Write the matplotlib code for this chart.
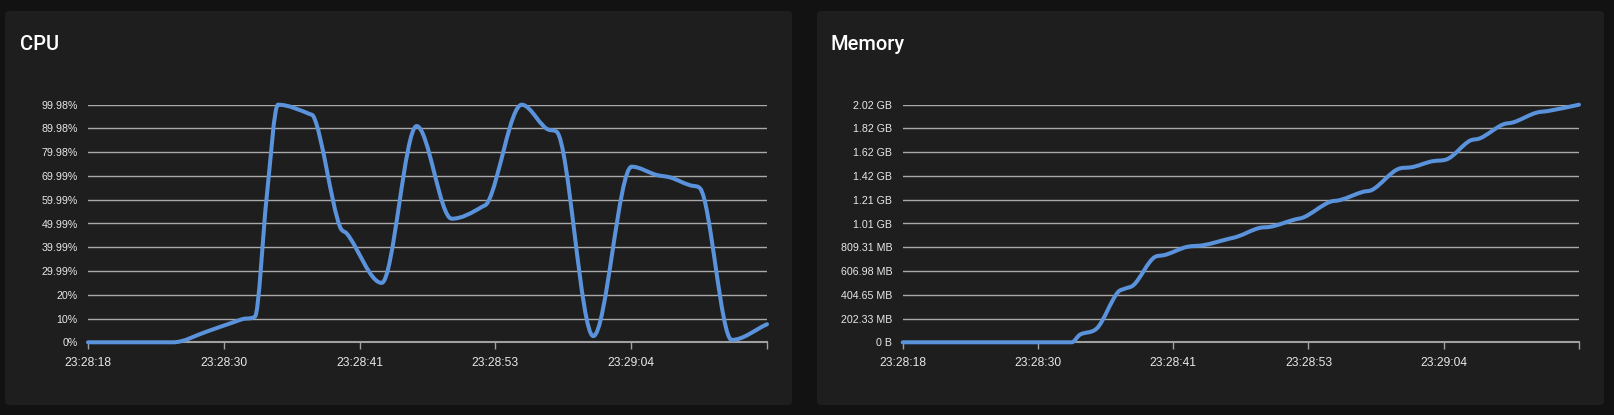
import numpy as np
import matplotlib
matplotlib.use('Agg')
import matplotlib.pyplot as plt
from matplotlib.path import Path
from matplotlib.patches import PathPatch, FancyBboxPatch

# seconds after 23:28:18
cpu_times = [0, 7.20, 10.05, 12.30, 13.40, 14.14, 15.13, 16.09, 18.80, 19.10,
             21.34, 21.91, 24.87, 27.83, 30.80, 33.36, 33.87, 36.73, 39.12,
             39.69, 42.79, 46.04, 48.16, 49.28, 51.26, 51.83, 54.51, 57.50]
cpu_pct = [0, 0, 4.5, 8.4, 10.0, 10.8, 61, 99.98, 96, 95,
           48.6, 45.8, 25, 91, 52, 57, 59, 99.98, 89.3,
           88.6, 2.6, 73.9, 70.4, 69.4, 65.8, 64.8, 1, 7.6]

mem_times = [0, 14.37, 15.07, 16.49, 18.33, 18.90, 19.61, 21.45, 22.16, 24.15,
             25.56, 27.83, 28.40, 30.38, 31.23, 33.35, 34.06, 36.33, 37.18,
             39.16, 39.87, 42.28, 43.13, 45.11, 46.25, 48.23, 49.08, 51.06,
             51.91, 53.90, 54.89, 57.50]
mem_mb = [0, 0, 65, 117, 430, 457, 486, 727, 741, 812,
          827, 884, 898, 975, 983, 1046, 1063, 1196, 1211,
          1282, 1296, 1481, 1489, 1543, 1558, 1717, 1737, 1856,
          1873, 1956, 1970, 2023.3]

time_span = 57.5
time_labels = ['23:28:18', '23:28:30', '23:28:41', '23:28:53', '23:29:04', '']
cpu_max = 99.98
cpu_labels = ['0%', '10%', '20%', '29.99%', '39.99%', '49.99%', '59.99%',
              '69.99%', '79.98%', '89.98%', '99.98%']
mem_max = 2023.3
mem_labels = ['0 B', '202.33 MB', '404.65 MB', '606.98 MB', '809.31 MB',
              '1.01 GB', '1.21 GB', '1.42 GB', '1.62 GB', '1.82 GB', '2.02 GB']

W, H = 1615, 415
bg = '#121212'
card = '#1e1e1e'
line_col = '#5a93db'
grid_col = '#a8a8a8'
axis_col = '#a0a0a0'
text_col = '#e8e8e8'

plt.rcParams['font.family'] = ['Liberation Sans', 'DejaVu Sans']


def monotone_path(xs, ys):
    # monotone cubic (Fritsch-Carlson) as bezier segments
    xs = np.asarray(xs, float)
    ys = np.asarray(ys, float)
    n = len(xs)
    dx = np.diff(xs)
    delta = np.diff(ys) / dx
    m = np.zeros(n)
    m[0] = delta[0]
    m[-1] = delta[-1]
    for k in range(1, n - 1):
        if delta[k - 1] * delta[k] <= 0:
            m[k] = 0
        else:
            m[k] = (delta[k - 1] + delta[k]) / 2
    for k in range(n - 1):
        if abs(delta[k]) < 1e-12:
            m[k] = m[k + 1] = 0
            continue
        a = m[k] / delta[k]
        b = m[k + 1] / delta[k]
        s = a * a + b * b
        if s <= 9:
            continue
        tau = 3 / np.sqrt(s)
        m[k] = a * tau * delta[k]
        m[k + 1] = b * tau * delta[k]
    verts = [(xs[0], ys[0])]
    codes = [Path.MOVETO]
    for k in range(n - 1):
        h = dx[k] / 3
        verts += [(xs[k] + h, ys[k] + m[k] * h),
                  (xs[k + 1] - h, ys[k + 1] - m[k + 1] * h),
                  (xs[k + 1], ys[k + 1])]
        codes += [Path.CURVE4] * 3
    return Path(verts, codes)


fig = plt.figure(figsize=(W / 100, H / 100), dpi=100, facecolor=bg)

# cards (pixel coords, origin bottom-left)
for x0, x1 in [(5, 792), (817, 1604)]:
    fig.patches.append(FancyBboxPatch(
        (x0 / 100, 10 / 100), (x1 - x0) / 100, 394 / 100,
        boxstyle='round,pad=0,rounding_size=0.04',
        transform=fig.dpi_scale_trans, fc=card, ec='none', zorder=-1))


def draw_panel(left_px, right_px, title, title_x, xs, values, ymax, ylabels):
    ax = fig.add_axes([left_px / W, 1 - 342.3 / H,
                       (right_px - left_px) / W, 237.6 / H])
    ax.set_facecolor('none')
    ax.add_patch(PathPatch(monotone_path(xs, values), fill=False,
                           ec=line_col, lw=2.9, capstyle='round',
                           joinstyle='round', clip_on=False, zorder=3))
    ax.set_xlim(0, time_span)
    ax.set_ylim(0, ymax)
    ax.set_yticks(np.linspace(0, ymax, len(ylabels)))
    ax.set_yticklabels(ylabels)
    ax.set_xticks(np.linspace(0, time_span, len(time_labels)))
    ax.set_xticklabels(time_labels)
    ax.yaxis.grid(True, color=grid_col, lw=1)
    ax.set_axisbelow(True)
    for s in ['top', 'left', 'right']:
        ax.spines[s].set_visible(False)
    ax.spines['bottom'].set_color(axis_col)
    ax.spines['bottom'].set_linewidth(1.5)
    ax.tick_params(axis='y', length=0, pad=7.5, labelsize=7.7,
                   labelcolor=text_col)
    ax.tick_params(axis='x', length=5, width=1, color=axis_col, pad=5.5,
                   labelsize=8.64, labelcolor=text_col)
    fig.text(title_x / W, 1 - 50 / H, title, fontsize=14.4,
             family=['Roboto', 'DejaVu Sans'], fontweight='medium',
             color='white', va='baseline', ha='left')
    return ax


draw_panel(88, 767, 'CPU', 20, cpu_times, cpu_pct, cpu_max, cpu_labels)
draw_panel(902.7, 1579, 'Memory', 831, mem_times, mem_mb, mem_max, mem_labels)

fig.savefig('out.png', dpi=100, facecolor=bg)
